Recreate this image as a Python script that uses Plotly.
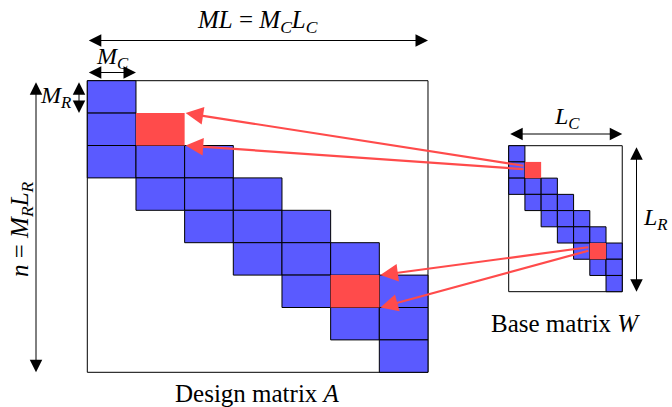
import plotly.graph_objects as go

# ---- data: block-band pattern (row, col) of the base matrix ----
n_rows = 9
n_cols = 7
cell_rows = [0, 1, 2, 2, 2, 3, 3, 3, 4, 4, 4, 5, 5, 5, 6, 6, 7, 7, 8]
cell_cols = [0, 0, 0, 1, 2, 1, 2, 3, 2, 3, 4, 3, 4, 5, 4, 6, 5, 6, 6]
red_rows = [1, 6]
red_cols = [1, 5]

W_PX, H_PX = 672, 407
FONT = "Liberation Serif, Times New Roman, Times, serif"
BLUE = "#5a5aff"
RED = "#ff4b4b"

# layout geometry (pixels)
A = dict(x0=87.3, y0=80.7, cw=48.67, ch=32.4)
W = dict(x0=508.7, y0=145.7, cw=16.22, ch=16.22)

fig = go.Figure()
fig.add_trace(go.Scatter(x=[0, W_PX], y=[0, H_PX], mode="markers",
                         marker=dict(opacity=0), hoverinfo="skip", showlegend=False))

shapes = []
def draw_matrix(g):
    shapes.append(dict(type="rect", xref="x", yref="y",
                       x0=g["x0"], x1=g["x0"] + n_cols * g["cw"],
                       y0=g["y0"], y1=g["y0"] + n_rows * g["ch"],
                       line=dict(color="black", width=1), fillcolor="white"))
    for r, c in zip(cell_rows, cell_cols):
        shapes.append(dict(type="rect", xref="x", yref="y",
                           x0=g["x0"] + c * g["cw"], x1=g["x0"] + (c + 1) * g["cw"],
                           y0=g["y0"] + r * g["ch"], y1=g["y0"] + (r + 1) * g["ch"],
                           line=dict(color="black", width=1), fillcolor=BLUE))
    for r, c in zip(red_rows, red_cols):
        shapes.append(dict(type="rect", xref="x", yref="y",
                           x0=g["x0"] + c * g["cw"], x1=g["x0"] + (c + 1) * g["cw"],
                           y0=g["y0"] + r * g["ch"], y1=g["y0"] + (r + 1) * g["ch"],
                           line=dict(width=0), fillcolor=RED))

draw_matrix(A)
draw_matrix(W)

ann = []
def txt(x, y, s, size=24, angle=0):
    ann.append(dict(x=x, y=y, xref="x", yref="y", text=s, showarrow=False,
                    xanchor="center", yanchor="middle", textangle=angle,
                    font=dict(family=FONT, size=size, color="black")))

def dbl(x0, y0, x1, y1):
    ann.append(dict(x=x1, y=y1, ax=x0, ay=y0, xref="x", yref="y", axref="x", ayref="y",
                    text="", showarrow=True, arrowside="end+start",
                    arrowhead=2, startarrowhead=2, arrowsize=2.5, startarrowsize=2.5,
                    arrowwidth=1, arrowcolor="black"))

def red_arrow(x0, y0, x1, y1):
    ann.append(dict(x=x1, y=y1, ax=x0, ay=y0, xref="x", yref="y", axref="x", ayref="y",
                    text="", showarrow=True, arrowhead=2, arrowsize=1.6,
                    arrowwidth=2.2, arrowcolor=RED))

Ax1 = A["x0"] + n_cols * A["cw"]
Ay1 = A["y0"] + n_rows * A["ch"]
Wx1 = W["x0"] + n_cols * W["cw"]
Wy1 = W["y0"] + n_rows * W["ch"]

# dimension arrows for A
dbl(A["x0"], 40.5, Ax1, 40.5)
txt((A["x0"] + Ax1) / 2, 21, "<i>ML</i> = <i>M<sub>C</sub>L<sub>C</sub></i>", size=25)
dbl(A["x0"], 72.5, A["x0"] + A["cw"], 72.5)
txt(112, 58, "<i>M<sub>C</sub></i>")
dbl(79, A["y0"], 79, A["y0"] + A["ch"])
txt(55, 97, "<i>M<sub>R</sub></i>")
dbl(36, A["y0"], 36, Ay1)
txt(21, 229, "<i>n</i> = <i>M<sub>R</sub>L<sub>R</sub></i>", size=25, angle=-90)
txt((A["x0"] + Ax1) / 2, 393, "Design matrix <i>A</i>", size=25)

# dimension arrows for W
dbl(W["x0"], 134, Wx1, 134)
txt(567, 118, "<i>L<sub>C</sub></i>")
dbl(636.5, W["y0"], 636.5, Wy1)
txt(655, 219, "<i>L<sub>R</sub></i>")
txt((W["x0"] + Wx1) / 2, 323, "Base matrix <i>W</i>", size=25)

# red arrows: W red cell -> A red block corners
fracs = [(0.25, 0), (0.45, 1)]
for r, c in zip(red_rows, red_cols):
    wx = W["x0"] + c * W["cw"]
    ax_ = A["x0"] + (c + 1) * A["cw"]
    for f, k in fracs:
        wy = W["y0"] + (r + f) * W["ch"]
        ay_ = A["y0"] + (r + k) * A["ch"]
        red_arrow(wx, wy, ax_ + 1, ay_)

fig.update_layout(
    width=W_PX, height=H_PX,
    margin=dict(l=0, r=0, t=0, b=0),
    paper_bgcolor="white", plot_bgcolor="white",
    xaxis=dict(range=[0, W_PX], visible=False, fixedrange=True),
    yaxis=dict(range=[H_PX, 0], visible=False, fixedrange=True),
    shapes=shapes, annotations=ann, showlegend=False,
)
fig.write_html("out.html", config={"displayModeBar": False},
               post_script="document.body.style.margin='0';document.body.style.overflow='hidden';")
